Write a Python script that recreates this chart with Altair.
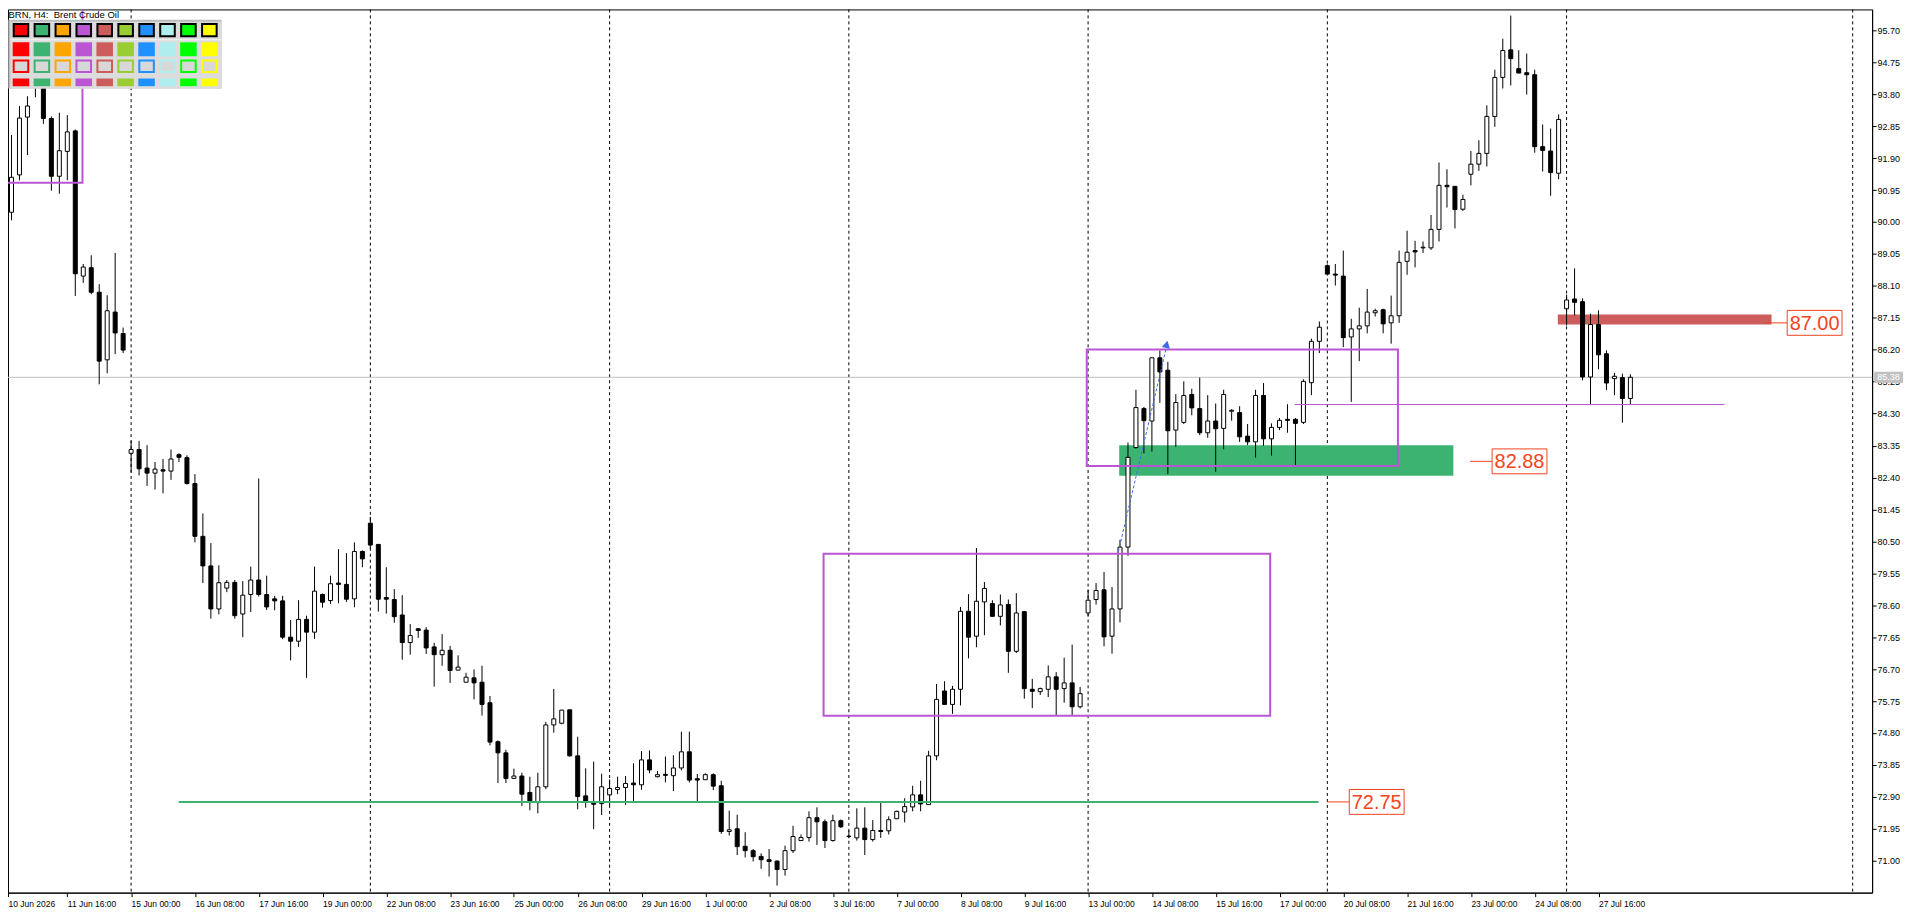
import altair as alt
import pandas as pd

# ---------------- Brent Crude Oil, H4 bars (first bar 10 Jun 2026 08:00) ----------------
opens = [91.13, 90.29, 91.40, 93.12, 94.30, 95.20, 93.08, 91.36, 92.10, 92.71,
         88.39, 88.64, 87.91, 85.90, 87.32, 86.68, 83.12, 83.23, 82.68, 82.53,
         82.63, 82.59, 83.08, 82.99, 82.22, 80.65, 79.77, 78.49, 79.11, 79.28,
         78.34, 78.92, 79.35, 78.92, 78.79, 78.73, 77.65, 77.53, 78.18, 77.80,
         78.92, 78.74, 79.26, 79.22, 78.79, 80.20, 81.04, 80.41, 78.83, 78.77,
         78.31, 77.49, 77.90, 77.86, 77.36, 77.13, 77.26, 76.67, 76.31, 76.44,
         76.31, 75.70, 74.54, 74.21, 73.45, 73.52, 73.03, 72.73, 73.20, 75.04,
         75.09, 75.49, 74.12, 72.93, 72.71, 72.70, 72.96, 73.12, 73.18, 73.31,
         73.26, 74.00, 73.50, 73.57, 73.53, 73.76, 74.24, 73.44, 73.41, 73.56,
         73.23, 71.87, 71.95, 71.43, 71.30, 71.13, 71.03, 70.99, 70.74, 71.30,
         71.60, 71.69, 72.28, 72.16, 71.60, 72.19, 71.73, 71.68, 71.97, 71.63,
         71.90, 71.89, 72.25, 72.45, 72.60, 72.96, 72.67, 74.12, 76.05, 75.65,
         76.10, 78.42, 77.68, 78.70, 78.65, 78.27, 78.62, 77.23, 78.41, 76.10,
         76.03, 76.10, 76.47, 76.12, 76.29, 75.58, 78.37, 78.77, 79.06, 77.68,
         78.49, 80.33, 83.29, 84.45, 84.08, 85.96, 85.59, 83.81, 84.04, 84.87,
         84.45, 83.73, 84.08, 83.86, 84.37, 84.33, 83.63, 83.46, 84.84, 83.55,
         83.89, 84.13, 84.13, 84.04, 85.22, 86.45, 88.70, 88.45, 88.39, 86.58,
         86.82, 86.91, 87.30, 87.39, 87.00, 87.21, 88.83, 89.15, 89.23, 89.23,
         89.78, 91.09, 91.06, 90.38, 91.42, 91.72, 92.04, 93.14, 94.30, 95.12,
         94.56, 94.44, 94.38, 92.24, 92.11, 91.45, 87.42, 87.71, 87.63, 85.39,
         86.95, 86.08, 85.34, 85.37, 84.75]
highs = [91.30, 92.59, 93.45, 93.74, 95.50, 95.30, 93.14, 93.25, 93.18, 92.75,
         88.75, 89.01, 88.15, 87.82, 89.08, 86.86, 83.49, 83.49, 83.36, 82.86,
         82.95, 83.23, 83.12, 83.06, 82.50, 81.33, 80.45, 79.79, 79.35, 79.35,
         79.32, 79.75, 82.37, 79.48, 78.88, 78.88, 78.16, 78.75, 78.29, 79.75,
         78.95, 79.48, 80.27, 80.15, 80.47, 80.23, 81.23, 80.41, 79.73, 79.08,
         78.90, 78.04, 77.92, 77.95, 77.48, 77.74, 77.39, 77.11, 76.59, 76.69,
         76.80, 75.90, 74.58, 74.30, 73.74, 73.62, 73.50, 73.62, 75.13, 76.11,
         75.48, 75.49, 74.69, 73.75, 73.95, 73.59, 73.42, 73.50, 73.52, 73.90,
         74.26, 74.28, 73.67, 74.10, 74.14, 74.84, 74.84, 73.58, 73.60, 73.60,
         73.38, 72.49, 72.37, 71.85, 71.35, 71.22, 71.35, 71.01, 71.45, 72.04,
         71.78, 72.47, 72.59, 72.23, 72.37, 72.23, 71.90, 72.56, 72.59, 72.21,
         72.72, 72.32, 72.49, 72.86, 73.23, 73.38, 74.27, 76.26, 76.34, 76.20,
         78.55, 78.93, 80.30, 79.29, 78.75, 78.92, 78.77, 78.96, 78.42, 76.41,
         76.15, 76.81, 76.61, 77.04, 77.43, 76.17, 79.06, 79.26, 79.59, 79.14,
         80.55, 83.44, 85.01, 84.50, 85.96, 86.18, 85.84, 84.88, 85.26, 85.04,
         85.37, 84.85, 84.60, 85.01, 84.43, 84.52, 83.99, 85.01, 85.21, 84.01,
         84.17, 84.58, 84.17, 85.32, 86.53, 87.04, 88.74, 88.75, 89.15, 87.12,
         87.45, 88.01, 87.42, 87.42, 87.81, 89.15, 89.74, 89.44, 89.42, 90.21,
         91.77, 91.57, 91.06, 90.81, 92.11, 92.43, 93.47, 94.53, 95.45, 96.14,
         95.11, 95.01, 94.53, 92.90, 92.78, 93.20, 87.84, 88.62, 87.73, 87.27,
         87.37, 86.18, 85.51, 85.49, 85.47]
lows = [90.10, 90.05, 91.24, 91.99, 93.71, 92.92, 90.93, 90.84, 91.24, 87.80,
        88.19, 87.85, 85.17, 85.50, 86.07, 86.10, 82.55, 82.46, 82.15, 82.04,
        81.93, 82.33, 82.86, 82.19, 80.47, 79.26, 78.20, 78.33, 78.99, 78.20,
        77.65, 78.40, 78.86, 78.46, 78.45, 77.59, 76.96, 77.36, 76.44, 77.60,
        78.53, 78.64, 78.66, 78.70, 78.54, 79.73, 80.27, 78.41, 78.35, 78.08,
        76.98, 77.13, 77.63, 77.15, 76.18, 76.80, 76.29, 76.67, 76.31, 75.80,
        75.32, 74.43, 73.31, 73.31, 73.45, 72.63, 72.50, 72.41, 73.13, 74.81,
        75.06, 74.10, 72.53, 72.58, 71.94, 72.36, 72.65, 72.98, 72.66, 72.76,
        73.11, 73.60, 73.48, 73.33, 73.07, 73.69, 73.33, 72.77, 73.41, 73.10,
        71.80, 71.75, 71.17, 71.10, 70.98, 70.76, 70.53, 70.26, 70.56, 71.23,
        71.60, 71.57, 71.47, 71.38, 71.57, 71.97, 71.67, 71.60, 71.17, 71.57,
        71.68, 71.78, 72.24, 72.14, 72.47, 72.47, 72.67, 73.99, 75.65, 75.37,
        75.62, 77.02, 77.35, 77.71, 78.25, 78.00, 76.59, 77.18, 75.82, 75.54,
        75.93, 75.87, 75.31, 75.70, 75.33, 75.53, 78.27, 78.62, 77.38, 77.16,
        78.09, 80.07, 83.26, 83.12, 83.17, 84.62, 82.50, 83.31, 83.99, 84.25,
        83.66, 83.58, 82.57, 83.24, 84.09, 83.46, 83.36, 82.99, 83.34, 83.05,
        83.81, 83.73, 82.77, 83.99, 84.85, 86.10, 88.45, 88.11, 86.28, 84.65,
        85.86, 86.69, 87.19, 86.69, 86.38, 87.00, 88.43, 88.65, 89.08, 89.17,
        89.42, 90.43, 89.81, 90.33, 91.09, 91.52, 91.65, 92.83, 93.97, 94.06,
        94.43, 93.79, 92.06, 91.50, 90.78, 91.27, 86.92, 87.22, 85.29, 84.57,
        85.62, 85.00, 84.85, 84.03, 84.58]
closes = [90.27, 91.33, 93.09, 93.45, 95.20, 93.08, 91.36, 92.12, 92.68, 88.46,
          88.66, 87.91, 85.86, 87.36, 86.70, 86.19, 83.23, 82.66, 82.53, 82.65,
          82.59, 82.95, 83.00, 82.22, 80.65, 79.77, 78.49, 79.27, 79.28, 78.29,
          78.90, 79.35, 78.92, 78.55, 78.73, 77.65, 77.53, 78.18, 77.80, 79.02,
          78.69, 79.24, 79.22, 78.78, 80.20, 79.98, 80.39, 78.78, 78.78, 78.26,
          77.49, 77.70, 77.85, 77.33, 77.13, 77.26, 76.66, 76.76, 76.46, 76.29,
          75.65, 74.53, 74.21, 73.45, 73.52, 72.98, 72.76, 73.20, 75.04, 75.22,
          75.48, 74.12, 72.91, 72.76, 72.68, 73.20, 73.15, 73.18, 73.30, 73.26,
          74.00, 73.70, 73.56, 73.54, 73.76, 74.24, 73.40, 73.40, 73.56, 73.22,
          71.87, 71.92, 71.42, 71.30, 71.12, 71.03, 70.98, 70.74, 71.30, 71.72,
          71.69, 72.28, 72.16, 71.60, 72.19, 72.01, 71.72, 71.97, 71.63, 71.90,
          71.87, 72.22, 72.47, 72.61, 72.96, 72.69, 74.12, 75.80, 75.65, 76.10,
          78.42, 77.65, 78.72, 79.10, 78.27, 78.61, 77.23, 78.37, 76.12, 76.04,
          76.12, 76.47, 76.10, 76.29, 75.58, 75.97, 78.75, 79.04, 77.66, 78.49,
          80.33, 83.00, 84.48, 84.09, 85.96, 85.54, 83.79, 84.63, 84.84, 84.47,
          83.73, 84.08, 83.85, 84.87, 84.40, 83.61, 83.46, 84.84, 83.55, 83.89,
          84.10, 84.10, 84.01, 85.26, 86.45, 86.87, 88.45, 88.42, 86.56, 86.82,
          86.91, 87.32, 87.36, 86.97, 87.21, 88.80, 89.10, 89.11, 89.25, 89.78,
          91.09, 91.05, 90.37, 90.67, 91.72, 92.04, 93.14, 94.30, 95.10, 94.86,
          94.43, 94.38, 92.24, 92.13, 91.47, 93.05, 87.68, 87.61, 85.39, 86.95,
          86.05, 85.21, 85.41, 84.75, 85.38]
last_price = 85.38

x_labels = ['10 Jun 2026', '11 Jun 16:00', '15 Jun 00:00', '16 Jun 08:00', '17 Jun 16:00',
            '19 Jun 00:00', '22 Jun 08:00', '23 Jun 16:00', '25 Jun 00:00', '26 Jun 08:00',
            '29 Jun 16:00', '1 Jul 00:00', '2 Jul 08:00', '3 Jul 16:00', '7 Jul 00:00',
            '8 Jul 08:00', '9 Jul 16:00', '13 Jul 00:00', '14 Jul 08:00', '15 Jul 16:00',
            '17 Jul 00:00', '20 Jul 08:00', '21 Jul 16:00', '23 Jul 00:00', '24 Jul 08:00',
            '27 Jul 16:00']
y_ticks = [71.00, 71.95, 72.90, 73.85, 74.80, 75.75, 76.70, 77.65, 78.60, 79.55,
           80.50, 81.45, 82.40, 83.35, 84.30, 85.25, 86.20, 87.15, 88.10, 89.05,
           90.00, 90.95, 91.90, 92.85, 93.80, 94.75, 95.70]
week_separators = [16, 46, 76, 106, 136, 166, 196, 231.875]

# drawn objects (bar index / price)
purple_x1 = [-3.0, 102.83, 135.83]
purple_x2 = [9.9, 158.83, 174.85]
purple_y1 = [91.17, 75.31, 82.74]
purple_y2 = [99.0, 80.13, 86.21]
zone_name = ['support', 'resistance']
zone_x1 = [139.9, 194.9]
zone_x2 = [181.8, 221.7]
zone_y1 = [82.45, 86.95]
zone_y2 = [83.36, 87.25]
level_price = [72.75, 82.88, 87.00]
level_text = ['72.75', '82.88', '87.00']
level_conn = [166.0, 183.9, 220.9]
level_box = [168.75, 186.66, 223.66]
hline_x1 = [21.97]
hline_x2 = [164.9]
hline_y = [72.75]
thin_x1 = [161.9]
thin_x2 = [215.8]
thin_y = [84.57]
arrow_x = [139.8, 145.8]
arrow_y = [80.20, 86.25]
arrow_head = [145.85, 86.36]

palette_colors = ['#FF0000', '#3CB371', '#FFA500', '#BA55D3', '#CD5C5C',
                  '#9ACD32', '#1E90FF', '#AFEEEE', '#00FF00', '#FFFF00']

# ---------------- build ----------------
df = pd.DataFrame({'i': list(range(len(opens))), 'o': opens, 'h': highs, 'l': lows, 'c': closes})

XS = alt.Scale(domain=[0.5625, 234.3125], nice=False, zero=False)
YS = alt.Scale(domain=[70.0514, 96.3227], nice=False, zero=False)
FONT = 'Liberation Sans'
LABEL_RED = '#F2441D'

label_expr = str(x_labels) + '[round(datum.value / 8)]'
x_axis = alt.Axis(values=[0.5625] + list(range(8, 201, 8)), labelExpr=label_expr, orient='bottom',
                  title=None, grid=False, tickSize=4, tickColor='black', domainColor='black',
                  labelAlign='left', labelBaseline='top', labelPadding=3, labelFont=FONT,
                  labelFontSize=8.5, labelColor='black', labelOverlap=False, labelFlush=False,
                  labelBound=False)
y_axis = alt.Axis(values=y_ticks, format='.2f', orient='right', title=None, grid=False,
                  tickSize=4, tickColor='black', domainColor='black', labelFont=FONT,
                  labelFontSize=9, labelColor='black', labelPadding=1, labelFlush=False,
                  labelOverlap=False)


def X(f):
    return alt.X(f, type='quantitative', scale=XS, axis=x_axis)


def Y(f):
    return alt.Y(f, type='quantitative', scale=YS, axis=y_axis)


one = pd.DataFrame({'a': [0]})

seps = alt.Chart(pd.DataFrame({'s': week_separators})).mark_rule(
    color='black', strokeWidth=1, strokeDash=[3, 3]).encode(x=X('s'))

price_line = alt.Chart(pd.DataFrame({'p': [last_price]})).mark_rule(
    color='#C0C0C0', strokeWidth=1).encode(y=Y('p'))

zones = alt.Chart(pd.DataFrame({'n': zone_name, 'x1': zone_x1, 'x2': zone_x2,
                                'y1': zone_y1, 'y2': zone_y2})).mark_rect().encode(
    x=X('x1'), x2='x2', y=Y('y1'), y2='y2',
    color=alt.Color('n:N', scale=alt.Scale(domain=['support', 'resistance'],
                                           range=['#3CB371', '#CD5C5C']), legend=None))

wicks = alt.Chart(df).mark_rule(color='black', strokeWidth=1).encode(
    x=X('i'), y=Y('l'), y2='h')

bull = alt.Chart(df).transform_filter('datum.c >= datum.o').transform_calculate(
    xa='datum.i - 0.25', xb='datum.i + 0.25').mark_rect(
    fill='white', stroke='black', strokeWidth=1).encode(x=X('xa'), x2='xb', y=Y('o'), y2='c')

bear = alt.Chart(df).transform_filter('datum.c < datum.o').transform_calculate(
    xa='datum.i - 0.25', xb='datum.i + 0.25').mark_rect(
    fill='black', stroke='black', strokeWidth=1).encode(x=X('xa'), x2='xb', y=Y('o'), y2='c')

hline = alt.Chart(pd.DataFrame({'x1': hline_x1, 'x2': hline_x2, 'y': hline_y})).mark_rule(
    color='#3CB371', strokeWidth=2).encode(x=X('x1'), x2='x2', y=Y('y'))

thin = alt.Chart(pd.DataFrame({'x1': thin_x1, 'x2': thin_x2, 'y': thin_y})).mark_rule(
    color='#BA55D3', strokeWidth=1).encode(x=X('x1'), x2='x2', y=Y('y'))

purple = alt.Chart(pd.DataFrame({'x1': purple_x1, 'x2': purple_x2, 'y1': purple_y1,
                                 'y2': purple_y2})).mark_rect(
    fillOpacity=0, stroke='#BA55D3', strokeWidth=2, clip=True).encode(
    x=X('x1'), x2='x2', y=Y('y1'), y2='y2')

arrow = alt.Chart(pd.DataFrame({'x1': [arrow_x[0]], 'x2': [arrow_x[1]],
                                'y1': [arrow_y[0]], 'y2': [arrow_y[1]]})).mark_rule(
    color='#3F6AE6', strokeWidth=1, strokeDash=[3, 2]).encode(
    x=X('x1'), x2='x2', y=Y('y1'), y2='y2')

head = alt.Chart(pd.DataFrame({'x': [arrow_head[0]], 'y': [arrow_head[1]]})).mark_point(
    shape='triangle-up', filled=True, size=70, angle=13, color='#3F6AE6', opacity=1).encode(
    x=X('x'), y=Y('y'))

lv = pd.DataFrame({'p': level_price, 't': level_text, 'conn': level_conn, 'box': level_box})
conn = alt.Chart(lv).mark_rule(color=LABEL_RED, strokeWidth=1).encode(
    x=X('conn'), x2='box', y=Y('p'))
boxes = alt.Chart(lv).transform_calculate(
    bx2='datum.box + 6.875', by1='datum.p - 0.37', by2='datum.p + 0.37').mark_rect(
    fill='white', stroke=LABEL_RED, strokeWidth=1).encode(
    x=X('box'), x2='bx2', y=Y('by1'), y2='by2')
box_text = alt.Chart(lv).transform_calculate(bc='datum.box + 3.4375').mark_text(
    font=FONT, fontSize=20, color=LABEL_RED, align='center', baseline='middle', dy=1).encode(
    x=X('bc'), y=Y('p'), text='t:N')

tag = alt.Chart(pd.DataFrame({'p': [last_price]})).transform_calculate(
    p1='datum.p - 0.165', p2='datum.p + 0.165').mark_rect(color='#C0C0C0').encode(
    x=alt.value(1872), x2=alt.value(1901), y=Y('p1'), y2='p2')
tag_text = alt.Chart(pd.DataFrame({'p': [last_price]})).mark_text(
    font=FONT, fontSize=9, color='white', align='center', baseline='middle').encode(
    x=alt.value(1886.5), y=Y('p'), text=alt.Text('p:Q', format='.2f'))

# MT5 colour-picker panel (screen decoration, laid out from column index)
pal = pd.DataFrame({'k': list(range(len(palette_colors))), 'col': palette_colors})
panel_bg = alt.Chart(one).mark_rect(color='#BDBDBD').encode(
    x=alt.value(0.3), x2=alt.value(214.3), y=alt.value(10.3), y2=alt.value(79.3))
panel_in = alt.Chart(one).mark_rect(color='#DCDCDC').encode(
    x=alt.value(2.3), x2=alt.value(214.3), y=alt.value(12.3), y2=alt.value(79.3))
panel_sep = alt.Chart(one).mark_rect(color='#F4F4F4').encode(
    x=alt.value(2.3), x2=alt.value(214.3), y=alt.value(30.0), y2=alt.value(31.0))


def pal_row(inset, **mk):
    return alt.Chart(pal).transform_calculate(
        px0=f'{4.7 + inset} + 21 * datum.k', px1=f'{21.3 - inset} + 21 * datum.k').mark_rect(**mk)


row1 = pal_row(1.0, stroke='black', strokeWidth=2).encode(
    x=alt.X('px0:Q', scale=None), x2='px1:Q', y=alt.value(14.7), y2=alt.value(27.0),
    fill=alt.Fill('col:N', scale=None, legend=None))
row2 = pal_row(0.0).encode(
    x=alt.X('px0:Q', scale=None), x2='px1:Q', y=alt.value(33.0), y2=alt.value(47.0),
    fill=alt.Fill('col:N', scale=None, legend=None))
row3 = pal_row(1.0, fill='#D8D8D8', strokeWidth=2).encode(
    x=alt.X('px0:Q', scale=None), x2='px1:Q', y=alt.value(51.3), y2=alt.value(62.7),
    stroke=alt.Stroke('col:N', scale=None, legend=None))
row4 = pal_row(0.0).encode(
    x=alt.X('px0:Q', scale=None), x2='px1:Q', y=alt.value(69.3), y2=alt.value(77.0),
    fill=alt.Fill('col:N', scale=None, legend=None))

title = alt.Chart(one).mark_text(
    text='BRN, H4:\u00a0 Brent Crude Oil', font=FONT, fontSize=9.5, color='black',
    align='left', baseline='alphabetic').encode(x=alt.value(0.5), y=alt.value(8.5))

chart = alt.layer(
    seps, price_line, zones, wicks, bull, bear, hline, thin, purple, arrow, head,
    conn, boxes, box_text, tag, tag_text,
    panel_bg, panel_in, panel_sep, row1, row2, row3, row4, title
).properties(
    width=1870, height=886,
    autosize=alt.AutoSizeParams(type='none'),
    padding={'left': 0, 'top': 0, 'right': 40, 'bottom': 21},
    background='white'
).configure_view(stroke='black', strokeWidth=1)

chart.save('out.html', embed_options={'renderer': 'svg', 'actions': False})
